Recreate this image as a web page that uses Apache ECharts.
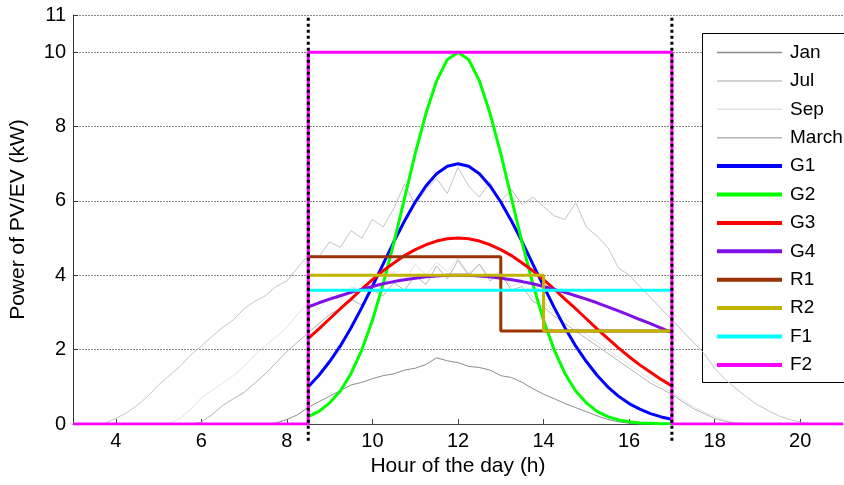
<!DOCTYPE html>
<html><head><meta charset="utf-8">
<script src="https://cdn.jsdelivr.net/npm/echarts@6/dist/echarts.min.js"></script>
<style>html,body{margin:0;padding:0;background:#fff}#c{width:844px;height:485px}</style>
</head><body><div id="c"></div>
<script>
// ---- data ----
// PV profiles sampled every quarter hour from 3:00 to 21:00 (73 samples)
const PV_START = 3, PV_STEP = 0.25;
const JAN = [0,0,0,0,0,0,0,0,0,0,0,0,0,0,0,0,0,0,0,0.03,0.12,0.25,0.45,0.6,0.75,0.9,1.05,1.12,1.22,1.3,1.35,1.45,1.5,1.6,1.78,1.7,1.65,1.55,1.52,1.45,1.3,1.25,1.12,0.95,0.8,0.68,0.55,0.44,0.33,0.22,0.12,0.06,0.02,0,0,0,0,0,0,0,0,0,0,0,0,0,0,0,0,0,0,0,0];
const JUL = [0,0,0,0.02,0.15,0.3,0.5,0.75,1.05,1.3,1.55,1.85,2.1,2.35,2.6,2.8,3.1,3.3,3.45,3.7,3.85,4.2,4.55,4.5,4.9,4.75,5.2,5.0,5.5,5.3,5.8,6.45,5.9,6.3,6.6,6.2,6.9,6.4,6.1,6.5,6.0,6.3,5.9,6.1,5.85,5.6,5.5,5.95,5.3,5.05,4.75,4.2,4.0,3.7,3.4,3.1,2.8,2.5,2.2,1.9,1.5,1.2,0.95,0.72,0.52,0.36,0.22,0.12,0.05,0.01,0,0,0];
const SEP = [0,0,0,0,0,0,0,0,0,0.02,0.15,0.4,0.7,0.9,1.1,1.3,1.55,1.85,2.1,2.35,2.6,2.95,3.25,3.1,3.45,3.35,3.7,3.55,3.9,3.7,4.1,3.85,4.3,4.0,4.35,4.1,4.45,4.05,4.3,3.9,4.1,3.7,3.85,3.4,3.3,3.0,2.85,2.6,2.4,2.2,2.0,1.8,1.6,1.4,1.2,1.02,0.85,0.65,0.48,0.32,0.2,0.1,0.03,0,0,0,0,0,0,0,0,0,0];
const MARCH = [0,0,0,0,0,0,0,0,0,0,0,0,0.05,0.25,0.5,0.68,0.85,1.1,1.35,1.65,1.95,2.2,2.45,2.7,2.95,3.1,3.35,3.2,3.6,3.45,3.8,3.6,4.0,3.75,4.25,3.9,4.4,4.0,4.3,3.85,4.05,3.6,3.7,3.3,3.15,2.9,2.7,2.5,2.3,2.1,1.9,1.7,1.5,1.3,1.1,0.95,0.8,0.6,0.42,0.28,0.15,0.07,0.02,0,0,0,0,0,0,0,0,0,0];

// EV charging profiles, quarter-hour samples from 8:30 to 17:00 (35 samples)
const EV_START = 8.5, EV_STEP = 0.25;
const G1 = [1.00,1.31,1.68,2.10,2.59,3.13,3.71,4.30,4.90,5.46,5.97,6.40,6.73,6.93,7.00,6.93,6.73,6.40,5.97,5.46,4.90,4.30,3.71,3.13,2.59,2.10,1.68,1.31,1.00,0.75,0.55,0.40,0.28,0.19,0.13];
const G2 = [0.20,0.34,0.57,0.89,1.36,1.99,2.79,3.76,4.87,6.07,7.27,8.35,9.23,9.80,10.0,9.80,9.23,8.35,7.27,6.07,4.87,3.76,2.79,1.99,1.36,0.89,0.57,0.34,0.20,0.11,0.06,0.03,0.02,0.01,0.01];
const G3 = [2.30,2.56,2.83,3.10,3.36,3.63,3.88,4.12,4.33,4.53,4.69,4.82,4.92,4.98,5.00,4.98,4.92,4.82,4.69,4.53,4.33,4.12,3.88,3.63,3.36,3.10,2.83,2.56,2.30,2.05,1.81,1.59,1.39,1.20,1.02];
const G4 = [3.15,3.26,3.36,3.45,3.54,3.62,3.70,3.77,3.83,3.88,3.92,3.96,3.98,4.00,4.00,4.00,3.98,3.96,3.92,3.88,3.83,3.77,3.70,3.62,3.54,3.45,3.36,3.26,3.15,3.04,2.93,2.81,2.70,2.58,2.46];
// Step profiles: breakpoints (h) and levels (kW)
const R1_H = [8.5, 13, 13, 17];   const R1_P = [4.5, 4.5, 2.5, 2.5];
const R2_H = [8.5, 14, 14, 17];   const R2_P = [4.0, 4.0, 2.5, 2.5];
const F1_H = [8.5, 17];           const F1_P = [3.6, 3.6];
const F2_H = [3, 8.5, 8.5, 17, 17, 21]; const F2_P = [0, 0, 10, 10, 0, 0];
// Parking window (dotted markers)
const WINDOW = [8.5, 17];
const X_MIN = 3, X_MAX = 21, Y_MIN = 0, Y_MAX = 11;

const NAMES = ['Jan','Jul','Sep','March','G1','G2','G3','G4','R1','R2','F1','F2'];
const THIN = ['Jan','Jul','Sep','March'];
const COLORS = {Jan:'#8c8c8c',Jul:'#c4c4c4',Sep:'#e2e2e2',March:'#b4b4b4',G1:'#0000ff',G2:'#00ff00',G3:'#ff0000',G4:'#7f10e8',R1:'#993300',R2:'#c0b400',F1:'#00ffff',F2:'#ff00ff'};

function pairs(start, step, vals){ return vals.map((v,i)=>[start+step*i, v]); }
function zip(h, p){ return h.map((x,i)=>[x,p[i]]); }

const FONT = 'Liberation Sans, Arial, sans-serif';
const series = [];
function addLine(name, data, width){
  series.push({name, type:'line', data, symbol:'none', showSymbol:false, animation:false,
    lineStyle:{color:COLORS[name], width}, itemStyle:{color:COLORS[name]}});
}
addLine('Jan', pairs(PV_START, PV_STEP, JAN), 1);
addLine('Jul', pairs(PV_START, PV_STEP, JUL), 1);
addLine('Sep', pairs(PV_START, PV_STEP, SEP), 1);
addLine('March', pairs(PV_START, PV_STEP, MARCH), 1);
addLine('G1', pairs(EV_START, EV_STEP, G1), 3);
addLine('G2', pairs(EV_START, EV_STEP, G2), 3);
addLine('G3', pairs(EV_START, EV_STEP, G3), 3);
addLine('G4', pairs(EV_START, EV_STEP, G4), 3);
addLine('R1', zip(R1_H, R1_P), 3);
addLine('R2', zip(R2_H, R2_P), 3);
addLine('F1', zip(F1_H, F1_P), 3);
addLine('F2', zip(F2_H, F2_P), 3);
WINDOW.forEach((h,i)=>{
  series.push({name:'win'+i, type:'line', data:[[h,-0.45],[h,Y_MAX]], symbol:'none', clip:false, animation:false, z:5,
    lineStyle:{color:'#000', width:3, type:[3,3]}});
});

const legendData = NAMES.map(n => ({name:n, lineStyle:{width: THIN.includes(n) ? 1.5 : 4, color: COLORS[n]}}));

const chart = echarts.init(document.getElementById('c'), null, {renderer:'canvas'});
chart.setOption({
  animation:false,
  backgroundColor:'#fff',
  grid:{left:71, right:1, top:15, bottom:61, containLabel:false},
  xAxis:{type:'value', min:X_MIN, max:X_MAX, splitNumber:9,
    name:'Hour of the day (h)', nameLocation:'middle', nameGap:30,
    nameTextStyle:{fontFamily:FONT, fontSize:21, color:'#000'},
    axisLine:{show:true, onZero:false, lineStyle:{color:'#444', width:1}},
    axisTick:{show:true, inside:true, length:5, lineStyle:{color:'#444'}},
    axisLabel:{fontFamily:FONT, fontSize:20, color:'#000', margin:7, showMinLabel:false, showMaxLabel:false},
    splitLine:{show:false}},
  yAxis:{type:'value', min:Y_MIN, max:Y_MAX, interval:2,
    name:'Power of PV/EV (kW)', nameLocation:'middle', nameGap:44,
    nameTextStyle:{fontFamily:FONT, fontSize:21, color:'#000'},
    axisLine:{show:true, lineStyle:{color:'#333', width:1}},
    axisTick:{show:true, inside:true, length:5, lineStyle:{color:'#333'}},
    axisLabel:{fontFamily:FONT, fontSize:20, color:'#000', margin:7},
    splitLine:{show:true, lineStyle:{color:'#8a8a8a', width:1, type:[2,1]}}},
  legend:{data:legendData, orient:'vertical', left:702, top:33,
    padding:[10,10,10,13], itemWidth:65, itemHeight:14, itemGap:9.4,
    itemStyle:{opacity:0},
    backgroundColor:'transparent', borderWidth:0,
    textStyle:{fontFamily:FONT, fontSize:19, color:'#000', padding:[0,0,0,3]}},
  graphic:[{type:'rect', z:3, left:702, top:33, shape:{x:0.5, y:0.5, width:200, height:349},
    style:{fill:'#fff', stroke:'#000', lineWidth:1}}],
  series
});
</script></body></html>
